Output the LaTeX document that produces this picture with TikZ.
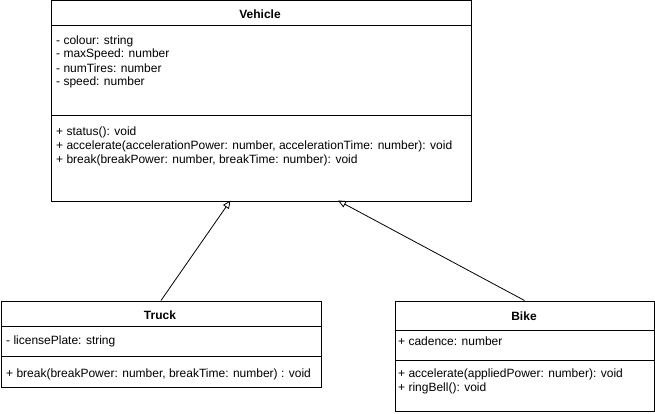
\documentclass[tikz,border=0pt]{standalone}
\usepackage{fontspec}
\setmainfont{Liberation Sans}
\usetikzlibrary{arrows.meta}
\begin{document}
\begin{tikzpicture}[x=1pt,y=-1pt,
  box/.style={draw, line width=1pt, inner sep=0pt, anchor=north west},
  txt/.style={anchor=west, inner sep=0pt, font=\fontsize{12}{14}\selectfont},
  ttl/.style={inner sep=0pt, font=\fontsize{12}{14}\selectfont\bfseries},
  sep/.style={line width=1pt},
  inh/.style={line width=0.8pt, -{Triangle[open, length=8pt, width=7pt]}}]
\useasboundingbox (0,0) rectangle (655,414);
% Vehicle
\node[box, minimum width=420pt, minimum height=200pt] (veh) at (50.5,0.5) {};
\draw[sep] (50.5,26) -- (470.5,26);
\draw[sep] (50.5,116) -- (470.5,116);
\node[ttl] (vehT) at (260,14) {Vehicle};
\node[txt] (va1) at (56,41) {- colour: string};
\node[txt] (va2) at (56,54.5) {- maxSpeed: number};
\node[txt] (va3) at (56,68) {- numTires: number};
\node[txt] (va4) at (56,82) {- speed: number};
\node[txt] (vm1) at (56,132) {+ status(): void};
\node[txt] (vm2) at (56,146) {+ accelerate(accelerationPower: number, accelerationTime: number): void};
\node[txt] (vm3) at (56,160) {+ break(breakPower: number, breakTime: number): void};
% Truck
\node[box, minimum width=320pt, minimum height=86pt] (truck) at (0.5,300.5) {};
\draw[sep] (0.5,326) -- (320.5,326);
\draw[sep] (0.5,356) -- (320.5,356);
\node[ttl] (truckT) at (160,315) {Truck};
\node[txt] (ta1) at (6,341) {- licensePlate: string};
\node[txt] (tm1) at (6,374) {+ break(breakPower: number, breakTime: number) : void};
% Bike
\node[box, minimum width=259pt, minimum height=110pt] (bike) at (394.5,300.5) {};
\draw[sep] (394.5,330.5) -- (653.5,330.5);
\draw[sep] (394.5,360.5) -- (653.5,360.5);
\node[ttl] (bikeT) at (524,316) {Bike};
\node[txt] (ba1) at (398,341.5) {+ cadence: number};
\node[txt] (bm1) at (398,374.5) {+ accelerate(appliedPower: number): void};
\node[txt] (bm2) at (398,388) {+ ringBell(): void};
% inheritance
\coordinate (vt1) at (230.5,200.5);
\coordinate (vt2) at (338,200.5);
\draw[inh] (truck.north) -- (vt1);
\draw[inh] (bike.north) -- (vt2);
\end{tikzpicture}
\end{document}
